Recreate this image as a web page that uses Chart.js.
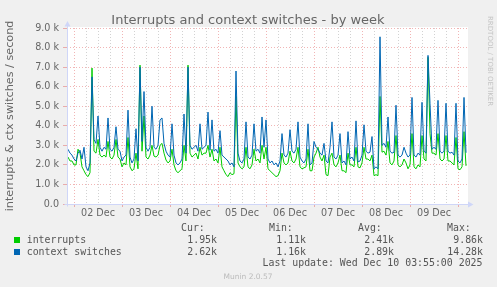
<!DOCTYPE html>
<html>
<head>
<meta charset="utf-8">
<title>Interrupts and context switches - by week</title>
<script src="https://cdn.jsdelivr.net/npm/chart.js@4.4.1/dist/chart.umd.min.js"></script>
<style>
  html, body { margin: 0; padding: 0; background: #f0f0f0; }
  #wrap { position: relative; width: 497px; height: 287px; overflow: hidden;
          font-family: "DejaVu Sans", sans-serif; color: #666; }
  #chart { position: absolute; left: 0; top: 0; }
  .t { position: absolute; white-space: pre; line-height: 12px; }
  .mono { font-family: "DejaVu Sans Mono", monospace; font-size: 9.9px; color: #555; }
  #title { left: 0; width: 496px; top: 11.5px; text-align: center; font-size: 13px; line-height: 16px; }
  #munin { left: 0; width: 496px; top: 271px; text-align: center; font-size: 7.5px; color: #bbb; }
  #rrd { left: 486px; top: 16px; writing-mode: vertical-rl; font-size: 7px; line-height: 8px; color: #c4c4c4; }
  .swatch { position: absolute; width: 6px; height: 6px; }
</style>
</head>
<body>
<div id="wrap">
  <canvas id="chart" width="497" height="287"></canvas>
  <div class="t" id="title">Interrupts and context switches - by week</div>
  <div class="t" id="rrd">RRDTOOL / TOBI OETIKER</div>
  <div class="t" id="munin">Munin 2.0.57</div>
</div>
<script>
// samples are one hour apart, hours counted from 02 Dec 00:00
const firstHour = -3;
const stepHours = 1;

const dayLabels = ['02 Dec', '03 Dec', '04 Dec', '05 Dec', '06 Dec', '07 Dec', '08 Dec', '09 Dec'];
const yTickLabels = ['0.0', '1.0 k', '2.0 k', '3.0 k', '4.0 k', '5.0 k', '6.0 k', '7.0 k', '8.0 k', '9.0 k'];

// thousands per second
const interrupts = [
  2.4, 2.2, 2.2, 2.0, 2.0, 2.8, 2.6, 1.9, 1.7, 1.5, 1.4, 1.6,
  6.95, 2.7, 2.6, 3.3, 2.5, 2.4, 2.5, 2.4, 3.2, 2.4, 2.3, 2.5,
  3.3, 2.4, 2.3, 1.9, 2.1, 2.0, 3.4, 1.9, 1.7, 1.8, 2.6, 1.8,
  7.1, 2.7, 4.5, 2.4, 2.3, 2.5, 3.0, 2.45, 2.4, 2.5, 3.0, 3.1,
  2.6, 2.25, 2.1, 2.2, 2.8, 2.0, 1.7, 1.6, 1.7, 1.8, 3.0, 2.2,
  7.1, 2.6, 2.4, 2.5, 2.6, 2.3, 2.9, 2.5, 2.6, 2.6, 3.0, 2.4,
  2.8, 2.2, 2.3, 2.1, 2.9, 1.9, 1.7, 1.5, 1.4, 1.6, 1.5, 1.55,
  5.5, 2.1, 1.9, 1.8, 1.9, 2.9, 1.9, 1.8, 2.0, 2.8, 2.2, 2.3,
  2.1, 3.0, 2.3, 2.9, 1.8, 1.7, 1.6, 1.5, 1.4, 1.45, 1.7, 2.6,
  2.1, 2.0, 2.1, 2.7, 2.2, 2.1, 2.3, 2.9, 1.9, 1.8, 1.85, 1.9,
  2.8, 1.7, 1.7, 2.4, 2.6, 2.9, 2.4, 2.2, 2.5, 1.5, 1.45, 2.4,
  2.6, 2.0, 1.9, 2.1, 2.5, 1.7, 1.7, 1.6, 2.6, 2.0, 2.0, 1.9,
  2.9, 1.9, 1.85, 2.1, 2.9, 2.3, 2.3, 2.2, 2.5, 1.45, 1.5, 1.45,
  5.5, 2.65, 2.7, 2.5, 3.2, 2.1, 2.0, 2.2, 3.5, 2.0, 1.9, 2.0,
  2.3, 2.1, 1.8, 2.0, 3.6, 1.9, 1.8, 2.0, 1.9, 3.5, 2.3, 2.2,
  7.5, 3.6, 2.6, 2.6, 2.5, 3.6, 2.3, 2.2, 2.3, 3.5, 2.2, 2.2,
  2.1, 2.0, 3.4, 1.8, 1.75, 1.9, 3.7, 1.95
];

const ctxSwitches = [
  2.8, 2.6, 2.5, 2.3, 2.2, 2.6, 2.75, 2.3, 2.9, 1.9, 1.7, 2.1,
  6.5, 3.3, 3.1, 4.5, 2.9, 2.7, 2.9, 2.8, 4.4, 2.8, 2.7, 2.9,
  3.95, 2.8, 2.7, 2.2, 2.4, 2.5, 4.8, 2.4, 2.1, 2.3, 3.85, 2.2,
  7.0, 3.2, 5.75, 2.9, 2.7, 2.9, 5.0, 2.9, 2.8, 3.0, 4.3, 4.4,
  3.1, 2.7, 2.5, 2.4, 4.1, 2.5, 2.1, 2.0, 2.1, 2.3, 4.6, 2.6,
  7.0, 3.0, 2.8, 2.9, 3.0, 2.7, 4.1, 2.8, 2.9, 3.0, 4.7, 2.75,
  4.3, 2.7, 2.8, 2.6, 3.75, 2.5, 2.4, 2.3, 2.2, 2.0, 2.1, 1.9,
  6.8, 2.6, 2.2, 2.1, 2.3, 4.2, 2.4, 2.3, 2.5, 4.1, 2.7, 2.8,
  2.6, 4.45, 2.9, 4.3, 2.3, 2.1, 2.2, 2.0, 2.1, 1.9, 2.2, 3.6,
  2.5, 2.4, 2.6, 3.8, 2.7, 2.6, 2.8, 4.2, 2.4, 2.2, 2.1, 2.3,
  4.1, 2.0, 2.1, 3.2, 2.9, 2.8, 2.6, 2.5, 3.1, 2.2, 2.1, 2.9,
  4.2, 2.4, 2.3, 2.5, 3.6, 2.1, 2.2, 2.0, 3.7, 2.3, 2.4, 2.2,
  4.25, 2.15, 2.2, 2.5, 4.05, 2.7, 2.6, 2.65, 3.45, 1.8, 1.9, 1.8,
  8.55, 3.0, 3.1, 2.9, 4.45, 2.7, 2.6, 2.65, 5.05, 2.5, 2.4, 2.5,
  2.9, 2.6, 2.4, 2.5, 5.45, 2.5, 2.4, 2.6, 2.5, 5.2, 2.7, 2.6,
  7.6, 5.15, 2.8, 2.9, 2.8, 5.3, 2.7, 2.6, 2.7, 5.15, 2.7, 2.6,
  2.65, 2.5, 5.15, 2.2, 2.1, 2.3, 5.45, 2.62
];

// legend table
const seriesNames = ['interrupts', 'context switches'];
const curText = ['1.95k', '2.62k'];
const minText = ['1.11k', '1.16k'];
const avgText = ['2.41k', '2.89k'];
const maxText = ['9.86k', '14.28k'];
const lastUpdate = 'Last update: Wed Dec 10 03:55:00 2025';

const GREEN = '#00cc00';
const BLUE = '#0066b3';
const AXIS = '#cfd6f8';
const MAJOR = 'rgba(222, 79, 79, 0.42)';
const MINOR = 'rgba(143, 143, 143, 0.4)';

const toPoints = vals => vals.map((v, i) => ({ x: firstHour + i * stepHours, y: v }));

// white canvas behind the plot, axis lines and arrow heads
const muninFrame = {
    id: 'muninFrame',
    beforeDraw(chart) {
        const { ctx, chartArea: a } = chart;
        ctx.save();
        ctx.fillStyle = '#ffffff';
        ctx.fillRect(a.left, a.top - 1, a.right - a.left, a.bottom - a.top + 1);
        ctx.restore();
    },
    afterDatasetsDraw(chart) {
        const { ctx, chartArea: a } = chart;
        const x0 = Math.round(a.left) + 0.5;
        const y0 = Math.round(a.bottom) + 0.5;
        ctx.save();
        ctx.strokeStyle = AXIS;
        ctx.fillStyle = AXIS;
        ctx.lineWidth = 1;
        ctx.beginPath();
        ctx.moveTo(x0, y0 + 2);
        ctx.lineTo(x0, a.top - 4);
        ctx.moveTo(x0 - 3, y0);
        ctx.lineTo(a.right + 2, y0);
        ctx.stroke();
        ctx.beginPath();
        ctx.moveTo(x0 - 3, a.top - 1.5);
        ctx.lineTo(x0 + 3, a.top - 1.5);
        ctx.lineTo(x0, a.top - 7);
        ctx.closePath();
        ctx.fill();
        ctx.beginPath();
        ctx.moveTo(a.right, y0 - 3);
        ctx.lineTo(a.right, y0 + 3);
        ctx.lineTo(a.right + 5.5, y0);
        ctx.closePath();
        ctx.fill();
        ctx.restore();
    }
};

new Chart(document.getElementById('chart'), {
    type: 'line',
    data: {
        datasets: [{
            label: 'interrupts',
            data: toPoints(interrupts),
            borderColor: GREEN,
            borderWidth: 1,
            pointRadius: 0,
            tension: 0,
            order: 2
        }, {
            label: 'context switches',
            data: toPoints(ctxSwitches),
            borderColor: BLUE,
            borderWidth: 1,
            pointRadius: 0,
            tension: 0,
            order: 1
        }]
    },
    options: {
        responsive: false,
        animation: false,
        layout: { padding: { left: 0, right: 29, top: 28, bottom: 63 } },
        plugins: {
            legend: { display: false },
            tooltip: { enabled: false }
        },
        scales: {
            x: {
                type: 'linear',
                min: -3.5,
                max: 197,
                afterFit: s => { s.height = 20; },
                border: { display: false, dash: [1, 2] },
                grid: {
                    color: c => c.tick.value % 24 === 0 ? MAJOR : MINOR,
                    tickColor: c => c.tick.value % 24 === 0 ? MAJOR : 'rgba(0,0,0,0)',
                    tickLength: 3
                },
                ticks: {
                    stepSize: 6,
                    includeBounds: false,
                    autoSkip: false,
                    maxRotation: 0,
                    padding: 1,
                    color: '#666',
                    font: { family: 'DejaVu Sans', size: 9.6 },
                    callback: v => (v % 24 === 12 ? dayLabels[(v - 12) / 24] || '' : '')
                }
            },
            y: {
                min: 0,
                max: 9,
                afterFit: s => { s.width = 67; },
                border: { display: false, dash: [1, 2] },
                grid: {
                    color: c => Number.isInteger(c.tick.value) ? MAJOR : MINOR,
                    tickColor: c => Number.isInteger(c.tick.value) ? MAJOR : 'rgba(0,0,0,0)',
                    tickLength: 4
                },
                ticks: {
                    stepSize: 0.5,
                    padding: 4,
                    color: '#666',
                    font: { family: 'DejaVu Sans', size: 9.6 },
                    callback: v => (Number.isInteger(v) ? yTickLabels[v] : '')
                },
                title: {
                    display: true,
                    text: 'interrupts & ctx switches / second',
                    color: '#666',
                    font: { family: 'DejaVu Sans', size: 11.2 },
                    padding: { top: 3, bottom: 0 }
                }
            }
        }
    },
    plugins: [muninFrame]
});

// legend below the graph
const wrap = document.getElementById('wrap');
function addText(text, x, y, align) {
    const el = document.createElement('div');
    el.className = 't mono';
    el.textContent = text;
    el.style.top = (y - 6) + 'px';
    if (align === 'right') el.style.right = (497 - x) + 'px';
    else el.style.left = x + 'px';
    wrap.appendChild(el);
    return el;
}
const headers = ['Cur:', 'Min:', 'Avg:', 'Max:'];
const headerLeft = [181, 269, 358, 447];
const columnRight = [217, 306, 394, 483];
const rowY = [239.5, 251.7];
const swatchColors = [GREEN, BLUE];
headers.forEach((h, i) => addText(h, headerLeft[i], 227.7));
seriesNames.forEach((name, r) => {
    const sw = document.createElement('div');
    sw.className = 'swatch';
    sw.style.left = '14px';
    sw.style.top = (rowY[r] - 2.5) + 'px';
    sw.style.background = swatchColors[r];
    wrap.appendChild(sw);
    addText(name, 26.7, rowY[r]);
    [curText, minText, avgText, maxText].forEach((col, c) => addText(col[r], columnRight[c], rowY[r], 'right'));
});
addText(lastUpdate, 482.5, 263.3, 'right');
</script>
</body>
</html>
